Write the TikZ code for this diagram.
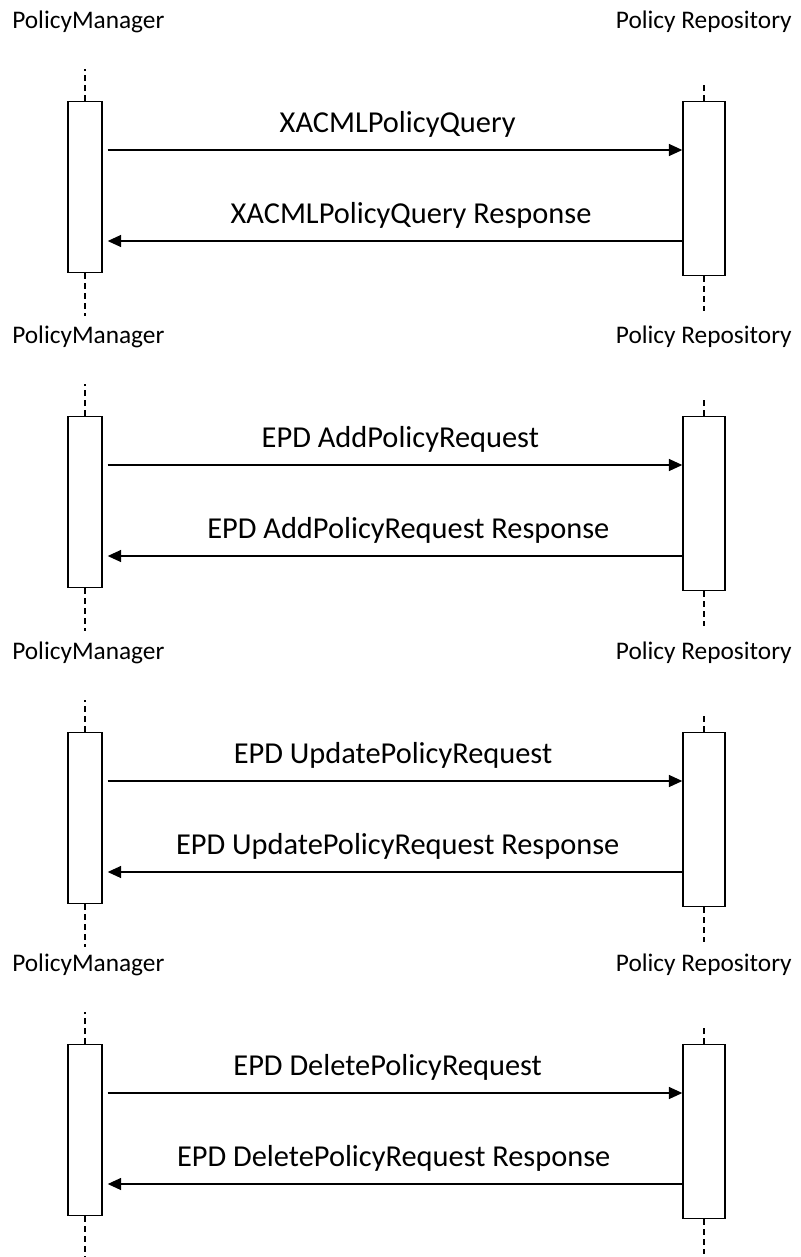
\documentclass[tikz,border=0pt]{standalone}
\usepackage{fontspec}
\setmainfont{Carlito}
\usetikzlibrary{arrows.meta,positioning,calc}
\tikzstyle{lifeline} = [line width=0.8pt, dash pattern=on 4.5pt off 3pt]
\tikzstyle{pmbar} = [rectangle, draw, line width=1.1pt, fill=white, inner sep=0pt, anchor=north, minimum width=25.5pt, minimum height=128pt]
\tikzstyle{prbar} = [pmbar, minimum width=31.5pt, minimum height=130.5pt]
\tikzstyle{msg} = [line width=0.9pt, -{Triangle[length=10pt,width=9pt]}]
\tikzstyle{actor} = [font=\fontsize{19}{22}\selectfont, inner sep=0pt]
\tikzstyle{msglabel} = [font=\fontsize{22.8}{26}\selectfont, inner sep=0pt, anchor=base, midway, yshift=13.5pt]

\begin{document}
\begin{tikzpicture}[x=0.75pt, y=-0.75pt]
    \useasboundingbox (0,0) rectangle (800,1257);

    % XACML policy query
    \node[actor, anchor=base west] (pm1) at (12,28) {PolicyManager};
    \node[actor, anchor=base east] (pr1) at (792,28) {Policy Repository};
    \node[pmbar] (pmbox1) at (85,101) {};
    \node[prbar] (prbox1) at (704,101) {};
    \draw[lifeline] (pmbox1.north) -- ++(0,-32);
    \draw[lifeline] (pmbox1.south) -- ++(0,43);
    \draw[lifeline] (prbox1.north) -- ++(0,-18);
    \draw[lifeline] (prbox1.south) -- ++(0,35);
    \draw[msg] ($(pmbox1.north east)+(5,49)$) -- ($(prbox1.north west)+(0,49)$) node[msglabel, xshift=2pt] (q1) {XACMLPolicyQuery};
    \draw[msg] ($(prbox1.north west)+(0,140)$) -- ($(pmbox1.north east)+(5,140)$) node[msglabel, xshift=12pt] (r1) {XACMLPolicyQuery Response};

    % Add policy
    \node[actor, anchor=base west] (pm2) at (12,343) {PolicyManager};
    \node[actor, anchor=base east] (pr2) at (792,343) {Policy Repository};
    \node[pmbar] (pmbox2) at (85,416) {};
    \node[prbar] (prbox2) at (704,416) {};
    \draw[lifeline] (pmbox2.north) -- ++(0,-32);
    \draw[lifeline] (pmbox2.south) -- ++(0,43);
    \draw[lifeline] (prbox2.north) -- ++(0,-18);
    \draw[lifeline] (prbox2.south) -- ++(0,35);
    \draw[msg] ($(pmbox2.north east)+(5,49)$) -- ($(prbox2.north west)+(0,49)$) node[msglabel, xshift=4pt] (q2) {EPD AddPolicyRequest};
    \draw[msg] ($(prbox2.north west)+(0,140)$) -- ($(pmbox2.north east)+(5,140)$) node[msglabel, xshift=10pt] (r2) {EPD AddPolicyRequest Response};

    % Update policy
    \node[actor, anchor=base west] (pm3) at (12,659) {PolicyManager};
    \node[actor, anchor=base east] (pr3) at (792,659) {Policy Repository};
    \node[pmbar] (pmbox3) at (85,732) {};
    \node[prbar] (prbox3) at (704,732) {};
    \draw[lifeline] (pmbox3.north) -- ++(0,-32);
    \draw[lifeline] (pmbox3.south) -- ++(0,43);
    \draw[lifeline] (prbox3.north) -- ++(0,-18);
    \draw[lifeline] (prbox3.south) -- ++(0,35);
    \draw[msg] ($(pmbox3.north east)+(5,49)$) -- ($(prbox3.north west)+(0,49)$) node[msglabel, xshift=-1.5pt] (q3) {EPD UpdatePolicyRequest};
    \draw[msg] ($(prbox3.north west)+(0,140)$) -- ($(pmbox3.north east)+(5,140)$) node[msglabel, xshift=2pt] (r3) {EPD UpdatePolicyRequest Response};

    % Delete policy
    \node[actor, anchor=base west] (pm4) at (12,971) {PolicyManager};
    \node[actor, anchor=base east] (pr4) at (792,971) {Policy Repository};
    \node[pmbar] (pmbox4) at (85,1044) {};
    \node[prbar] (prbox4) at (704,1044) {};
    \draw[lifeline] (pmbox4.north) -- ++(0,-32);
    \draw[lifeline] (pmbox4.south) -- ++(0,43);
    \draw[lifeline] (prbox4.north) -- ++(0,-18);
    \draw[lifeline] (prbox4.south) -- ++(0,35);
    \draw[msg] ($(pmbox4.north east)+(5,49)$) -- ($(prbox4.north west)+(0,49)$) node[msglabel, xshift=-5.5pt] (q4) {EPD DeletePolicyRequest};
    \draw[msg] ($(prbox4.north west)+(0,140)$) -- ($(pmbox4.north east)+(5,140)$) node[msglabel, xshift=-1pt] (r4) {EPD DeletePolicyRequest Response};
\end{tikzpicture}
\end{document}
